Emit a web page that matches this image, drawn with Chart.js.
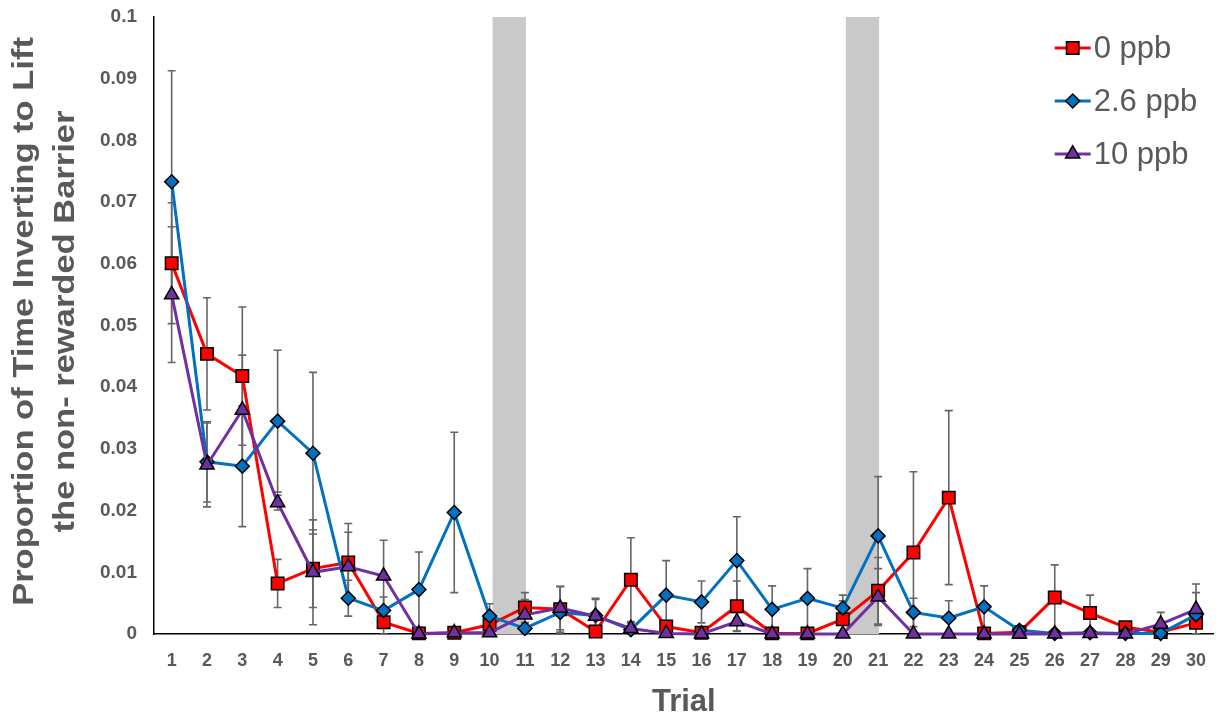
<!DOCTYPE html>
<html lang="en">
<head>
    <meta charset="UTF-8">
    <title>Inverting to Lift the non-rewarded Barrier</title>
    <script src="https://cdn.jsdelivr.net/npm/chart.js@4.4.0/dist/chart.umd.min.js"></script>
    <style>
        html, body { margin: 0; padding: 0; background: #fff; }
        #wrap { width: 1224px; height: 719px; }
    </style>
</head>
<body>
    <div id="wrap"><canvas id="trialChart" width="1224" height="719"></canvas></div>

    <script>
        // Trials 1..30
        const trials = ['1','2','3','4','5','6','7','8','9','10','11','12','13','14','15',
                        '16','17','18','19','20','21','22','23','24','25','26','27','28','29','30'];

        // Mean proportion per trial
        const ppb0 = [0.0601, 0.0454, 0.0418, 0.0082, 0.0106, 0.0116, 0.0019, 0.0001, 0.0002, 0.0015,
                      0.0043, 0.0040, 0.0004, 0.0088, 0.0012, 0.0002, 0.0045, 0.0001, 0.0001, 0.0024,
                      0.0070, 0.0132, 0.0221, 0.0001, 0.0003, 0.0059, 0.0034, 0.0011, 0.0003, 0.0018];
        const ppb26 = [0.0733, 0.0279, 0.0272, 0.0345, 0.0293, 0.0058, 0.0038, 0.0072, 0.0197, 0.0029,
                       0.0009, 0.0035, 0.0030, 0.0007, 0.0063, 0.0052, 0.0119, 0.0040, 0.0058, 0.0042,
                       0.0159, 0.0035, 0.0026, 0.0044, 0.0006, 0.0001, 0.0002, 0.0001, 0.0001, 0.0031];
        const ppb10 = [0.0550, 0.0274, 0.0363, 0.0213, 0.0100, 0.0109, 0.0094, 0.0000, 0.0002, 0.0002,
                       0.0031, 0.0042, 0.0029, 0.0009, 0.0001, 0.0000, 0.0020, 0.0000, 0.0000, 0.0000,
                       0.0060, 0.0000, 0.0000, 0.0000, 0.0000, 0.0000, 0.0001, 0.0000, 0.0016, 0.0040];

        // Standard error per trial
        const err0 = [0.0098, 0.0091, 0.0112, 0.0039, 0.0063, 0.0063, 0.0019, 0.0001, 0.0002, 0.0010,
                      0.0024, 0.0037, 0.0004, 0.0068, 0.0010, 0.0002, 0.0041, 0.0001, 0.0001, 0.0030,
                      0.0054, 0.0131, 0.0141, 0.0001, 0.0003, 0.0053, 0.0029, 0.0008, 0.0003, 0.0018];
        const err26 = [0.0180, 0.0065, 0.0098, 0.0115, 0.0131, 0.0029, 0.0022, 0.0061, 0.0130, 0.0020,
                       0.0008, 0.0042, 0.0028, 0.0006, 0.0056, 0.0034, 0.0071, 0.0038, 0.0048, 0.0021,
                       0.0096, 0.0023, 0.0028, 0.0034, 0.0004, 0.0001, 0.0002, 0.0001, 0.0002, 0.0036];
        const err10 = [0.0110, 0.0068, 0.0089, 0.0012, 0.0085, 0.0056, 0.0058, 0.0000, 0.0002, 0.0002,
                       0.0025, 0.0035, 0.0027, 0.0009, 0.0001, 0.0000, 0.0015, 0.0000, 0.0000, 0.0000,
                       0.0046, 0.0000, 0.0000, 0.0000, 0.0000, 0.0000, 0.0001, 0.0000, 0.0019, 0.0041];

        // Shaded trial spans (from trial, to trial)
        const shadedTrials = [['10', '11'], ['20', '21']];

        const yTicks = [0, 0.01, 0.02, 0.03, 0.04, 0.05, 0.06, 0.07, 0.08, 0.09, 0.1];
        const yTitle = ['Proportion of Time Inverting to Lift', 'the non- rewarded Barrier'];

        const grey = '#595959';
        const font = "'Liberation Sans', Arial, sans-serif";

        // gray bands + error bars behind the lines
        const backdropPlugin = {
            id: 'backdrop',
            beforeDatasetsDraw(chart) {
                const ctx = chart.ctx;
                const x = chart.scales.x, y = chart.scales.y;
                const area = chart.chartArea;
                ctx.save();
                ctx.fillStyle = '#c9c9c9';
                shadedTrials.forEach(([a, b]) => {
                    const x1 = x.getPixelForValue(trials.indexOf(a)) + 3;
                    const x2 = x.getPixelForValue(trials.indexOf(b)) + 1;
                    ctx.fillRect(x1, area.top, x2 - x1, area.bottom - area.top);
                });

                ctx.strokeStyle = '#666666';
                ctx.lineWidth = 1.6;
                chart.data.datasets.forEach((ds, i) => {
                    const meta = chart.getDatasetMeta(i);
                    ds.errors.forEach((e, j) => {
                        if (!e) return;
                        const px = meta.data[j].x;
                        const top = y.getPixelForValue(ds.data[j] + e);
                        const bot = y.getPixelForValue(Math.max(0, ds.data[j] - e));
                        ctx.beginPath();
                        ctx.moveTo(px, top); ctx.lineTo(px, bot);
                        ctx.moveTo(px - 4, top); ctx.lineTo(px + 4, top);
                        ctx.moveTo(px - 4, bot); ctx.lineTo(px + 4, bot);
                        ctx.stroke();
                    });
                });
                ctx.restore();
            }
        };

        // y title (stretched along its length) and the line + marker legend
        const labelsPlugin = {
            id: 'labels',
            afterDraw(chart) {
                const ctx = chart.ctx;
                const area = chart.chartArea;
                ctx.save();

                const cy = (area.top + area.bottom) / 2 - 4;
                ctx.fillStyle = grey;
                ctx.font = 'bold 29px ' + font;
                ctx.textAlign = 'center';
                ctx.textBaseline = 'middle';
                yTitle.forEach((line, i) => {
                    ctx.save();
                    ctx.translate(25 + i * 41, cy);
                    ctx.rotate(-Math.PI / 2);
                    ctx.scale(1.19, 1);
                    ctx.fillText(line, 0, 0);
                    ctx.restore();
                });

                const x0 = area.right - 159;
                ctx.textAlign = 'left';
                chart.data.datasets.forEach((ds, i) => {
                    const yy = area.top + 31 + i * 53;
                    ctx.strokeStyle = ds.borderColor;
                    ctx.lineWidth = 3;
                    ctx.beginPath();
                    ctx.moveTo(x0, yy); ctx.lineTo(x0 + 36, yy);
                    ctx.stroke();
                    ctx.fillStyle = ds.pointBackgroundColor;
                    ctx.strokeStyle = '#000';
                    ctx.lineWidth = 1.5;
                    Chart.helpers.drawPoint(ctx, {
                        pointStyle: ds.pointStyle, radius: ds.pointRadius, borderWidth: 1.5, rotation: 0
                    }, x0 + 18, yy);
                    ctx.fillStyle = grey;
                    ctx.font = '31px ' + font;
                    ctx.fillText(ds.label, x0 + 39, yy + 1);
                });
                ctx.restore();
            }
        };

        function series(label, data, errors, color, style, radius, order) {
            return {
                label: label,
                data: data,
                errors: errors,
                borderColor: color,
                backgroundColor: color,
                borderWidth: 3,
                pointStyle: style,
                pointRadius: radius,
                pointHoverRadius: radius,
                pointBackgroundColor: color,
                pointBorderColor: '#000',
                pointBorderWidth: 1.5,
                tension: 0,
                order: order,
                clip: false
            };
        }

        new Chart(document.getElementById('trialChart'), {
            type: 'line',
            data: {
                labels: trials,
                datasets: [
                    series('0 ppb', ppb0, err0, '#ff0000', 'rect', 8.8, 3),
                    series('2.6 ppb', ppb26, err26, '#0070c0', 'rectRot', 7, 2),
                    series('10 ppb', ppb10, err10, '#7030a0', 'triangle', 8.2, 1)
                ]
            },
            options: {
                responsive: false,
                animation: false,
                layout: { padding: { top: 17, right: 8, bottom: 0, left: 0 } },
                plugins: {
                    legend: { display: false },
                    tooltip: { enabled: false }
                },
                scales: {
                    x: {
                        offset: true,
                        grid: { drawOnChartArea: false, drawTicks: false },
                        border: { display: true, color: '#000', width: 1.5 },
                        ticks: {
                            color: grey, padding: 16, maxRotation: 0, autoSkip: false,
                            font: { family: font, size: 18, weight: 'bold' }
                        },
                        title: {
                            display: true, text: 'Trial', color: grey,
                            padding: { top: 0, bottom: 0 },
                            font: { family: font, size: 31, weight: 'bold', lineHeight: 1.05 }
                        },
                        afterFit(scale) { scale.height = 85; }
                    },
                    y: {
                        min: 0,
                        max: 0.1,
                        afterBuildTicks(scale) { scale.ticks = yTicks.map(v => ({ value: v })); },
                        grid: { drawOnChartArea: false, drawTicks: false },
                        border: { display: true, color: '#000', width: 1.5 },
                        ticks: {
                            color: grey, padding: 17,
                            font: { family: font, size: 19, weight: 'bold' },
                            callback: v => String(+v.toFixed(2))
                        },
                        afterFit(scale) {
                            scale.width = 154;
                            scale.paddingTop = 0;
                            scale.paddingBottom = 0;
                        }
                    }
                }
            },
            plugins: [backdropPlugin, labelsPlugin]
        });
    </script>
</body>
</html>
